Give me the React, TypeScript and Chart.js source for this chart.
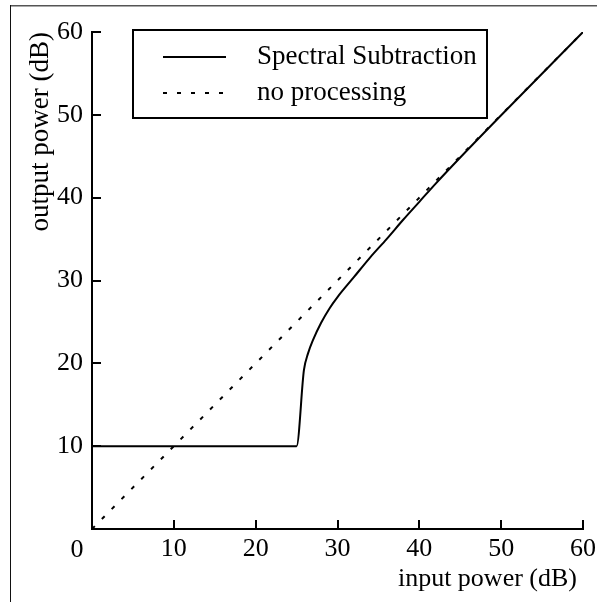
import { useEffect, useRef } from 'react';
import { Chart, registerables } from 'chart.js';

Chart.register(...registerables);

const seriesLabels = ['Spectral Subtraction', 'no processing'];
const ssX = [0, 25, 25.9, 26.4, 27, 28, 29, 30, 32, 34, 36, 38, 40, 42, 45, 50, 60];
const ssY = [10, 10, 19.2, 21.2, 22.8, 24.9, 26.6, 28.0, 30.4, 32.8, 35.0, 37.3, 39.5, 41.7, 44.85, 49.95, 60];
const npX = [0, 60];
const npY = [0, 60];
const axisMin = 0;
const axisMax = 60;
const tickStep = 10;
const tickValues = [10, 20, 30, 40, 50, 60];
const xTitle = 'input power (dB)';
const yTitle = 'output power (dB)';
const originLabel = '0';

const FONT = "'Liberation Serif', 'Times New Roman', serif";
const DASH = [4, 10];

const framePlugin = {
  id: 'frame',
  beforeDraw(chart: any) {
    const ctx = chart.ctx;
    ctx.save();
    ctx.fillStyle = '#ffffff';
    ctx.fillRect(0, 0, chart.width, chart.height);
    ctx.fillStyle = '#555555';
    ctx.fillRect(10, 5, chart.width - 10, 1.5);
    ctx.fillStyle = '#111111';
    ctx.fillRect(10, 5, 1, chart.height - 5);
    ctx.restore();
  },
};

const overlayPlugin = {
  id: 'overlay',
  afterDraw(chart: any) {
    const ctx = chart.ctx;
    const ca = chart.chartArea;
    const xs = chart.scales.x;
    const ys = chart.scales.y;
    ctx.save();
    // inward tick marks
    ctx.fillStyle = '#000000';
    tickValues.forEach((v) => {
      const px = Math.round(xs.getPixelForValue(v));
      ctx.fillRect(px - 1, ca.bottom - 9, 2, 9);
      const py = Math.round(ys.getPixelForValue(v));
      ctx.fillRect(ca.left, py - 1, 9, 2);
    });

    // legend box
    const bx = ca.left + 41;
    const by = ca.top - 2;
    const bw = 354;
    const bh = 88;
    ctx.fillStyle = '#ffffff';
    ctx.fillRect(bx, by, bw, bh);
    ctx.strokeStyle = '#000000';
    ctx.lineWidth = 2;
    ctx.strokeRect(bx, by, bw, bh);
    const rows = [by + 27, by + 63];
    chart.data.datasets.forEach((ds: any, i: number) => {
      const y = rows[i];
      ctx.beginPath();
      ctx.setLineDash(ds.borderDash || []);
      ctx.lineWidth = 2;
      ctx.strokeStyle = '#000000';
      ctx.moveTo(bx + 30, y);
      ctx.lineTo(bx + 93, y);
      ctx.stroke();
      ctx.setLineDash([]);
      ctx.fillStyle = '#000000';
      ctx.font = `27px ${FONT}`;
      ctx.textAlign = 'left';
      ctx.textBaseline = 'middle';
      ctx.fillText(ds.label, bx + 124, y);
    });

    ctx.fillStyle = '#000000';
    ctx.font = `26px ${FONT}`;
    ctx.textAlign = 'center';
    ctx.textBaseline = 'middle';
    ctx.fillText(originLabel, xs.getPixelForValue(axisMin) - 15, xs.top + 21);
    ctx.textAlign = 'right';
    ctx.fillText(xTitle, ca.right - 6, chart.height - 23);
    ctx.restore();
  },
};

export default function App() {
  const ref = useRef<HTMLCanvasElement>(null);
  useEffect(() => {
    if (!ref.current) return;
    const tickCb = (v: any) => (Number(v) === axisMin ? '' : String(v));
    const chart = new Chart(ref.current, {
      type: 'scatter',
      data: {
        datasets: [
          {
            label: seriesLabels[0],
            data: ssX.map((x, i) => ({ x, y: ssY[i] })),
            showLine: true,
            borderColor: '#000000',
            borderWidth: 2,
            pointRadius: 0,
            cubicInterpolationMode: 'monotone',
          },
          {
            label: seriesLabels[1],
            data: npX.map((x, i) => ({ x, y: npY[i] })),
            showLine: true,
            borderColor: '#000000',
            borderWidth: 2,
            borderDash: DASH,
            pointRadius: 0,
            tension: 0,
          },
        ],
      },
      options: {
        animation: false,
        responsive: false,
        devicePixelRatio: 1,
        layout: { padding: { top: 32, right: 14, left: 0, bottom: 0 } },
        plugins: { legend: { display: false }, tooltip: { enabled: false } },
        scales: {
          x: {
            type: 'linear',
            min: axisMin,
            max: axisMax,
            afterFit: (s: any) => {
              s.height = 73;
              s.paddingLeft = 0;
              s.paddingRight = 0;
            },
            ticks: {
              stepSize: tickStep,
              padding: 5,
              color: '#000000',
              font: { family: FONT, size: 26 },
              callback: tickCb,
              maxRotation: 0,
            },
            grid: { display: false, drawTicks: false },
            border: { display: true, color: '#000000', width: 2 },
            title: { display: false },
          },
          y: {
            type: 'linear',
            min: axisMin,
            max: axisMax,
            afterFit: (s: any) => {
              s.width = 92;
              s.paddingTop = 0;
              s.paddingBottom = 0;
            },
            ticks: {
              stepSize: tickStep,
              padding: 9,
              color: '#000000',
              font: { family: FONT, size: 26 },
              callback: tickCb,
            },
            grid: { display: false, drawTicks: false },
            border: { display: true, color: '#000000', width: 2 },
            title: {
              display: true,
              text: yTitle,
              align: 'end',
              color: '#000000',
              font: { family: FONT, size: 27 },
              padding: { top: 25, bottom: 0 },
            },
          },
        },
      } as any,
      plugins: [framePlugin, overlayPlugin],
    });
    return () => chart.destroy();
  }, []);
  return (
    <div style={{ position: 'fixed', left: 0, top: 0, width: 597, height: 602 }}>
      <canvas ref={ref} width={597} height={602} style={{ display: 'block' }} />
    </div>
  );
}
